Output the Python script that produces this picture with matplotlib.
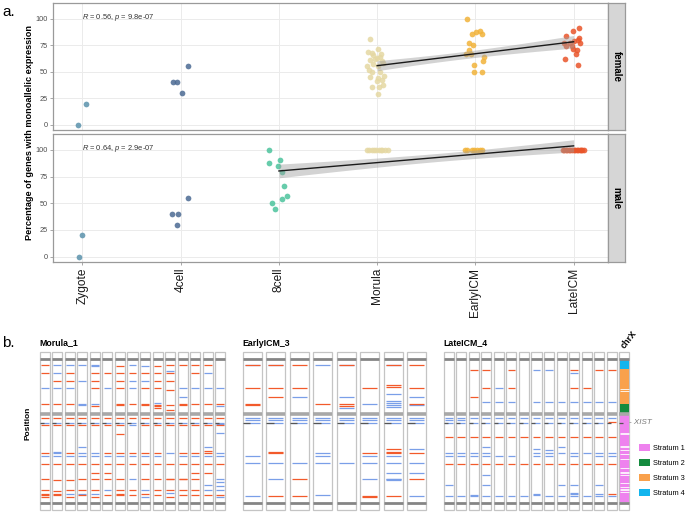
import numpy as np
import matplotlib
matplotlib.use("Agg")
import matplotlib.pyplot as plt
from matplotlib.patches import Rectangle, Patch

plt.rcParams['font.family'] = ['Liberation Sans', 'DejaVu Sans']
plt.rcParams['mathtext.fontset'] = 'custom'
plt.rcParams['mathtext.rm'] = 'Liberation Sans'
plt.rcParams['mathtext.it'] = 'Liberation Sans:italic'

# ======================= panel a data =======================
stages = ['Zygote', '4cell', '8cell', 'Morula', 'EarlyICM', 'LateICM']
stage_colors = ['#5A92AC', '#4B6A93', '#4CC39D', '#E5D8A3', '#F1B33A', '#E9552A']

# female (values, horizontal jitter offsets)
f_zygote_y = [0, 20]
f_zygote_dx = [-0.05, 0.04]
f_4cell_y = [40, 40, 30, 55.6]
f_4cell_dx = [-0.08, -0.04, 0.01, 0.07]
f_8cell_y = []
f_8cell_dx = []
f_morula_y = [81, 72, 69, 67.5, 66, 64, 63, 61, 60, 57, 55, 55, 50, 50, 45.5, 44, 42.5, 41,
              37.5, 35.5, 35.5, 29, 67, 62, 46, 52, 58]
f_morula_dx = [-0.07, 0.01, -0.09, -0.05, -0.04, 0.03, 0.0, -0.07, 0.05, -0.04, -0.1, 0.01, -0.05,
               0.03, -0.07, 0.01, 0.05, 0.0, 0.06, -0.05, 0.02, 0.01, 0.04, -0.02, 0.07, -0.08, 0.06]
f_early_y = [100, 86, 87.5, 89, 86, 77.5, 75, 71, 67, 67, 64, 60, 56, 50, 50]
f_early_dx = [-0.09, -0.03, 0.01, 0.05, 0.07, -0.06, -0.02, -0.07, -0.1, -0.04, 0.09, 0.08, -0.01, -0.01, 0.07]
f_late_y = [91, 89, 83.5, 82, 77.5, 77.5, 77.5, 74.5, 74.5, 72, 71, 67, 62, 56, 79, 80]
f_late_dx = [0.05, -0.01, -0.08, 0.05, -0.1, -0.04, 0.07, -0.08, -0.02, -0.01, 0.03, 0.02, -0.09, 0.04, 0.0, 0.04]

# male
m_zygote_y = [0, 20]
m_zygote_dx = [-0.04, 0.0]
m_4cell_y = [40, 40, 30, 55]
m_4cell_dx = [-0.09, -0.03, -0.04, 0.07]
m_8cell_y = [100, 87.5, 84.6, 91, 79, 66.7, 57, 54.5, 50.3, 44.7]
m_8cell_dx = [-0.1, -0.1, -0.01, 0.01, 0.03, 0.05, 0.08, 0.03, -0.07, -0.04]
m_morula_y = [100, 100, 100, 100, 100, 100, 100, 100, 100, 100]
m_morula_dx = [-0.1, -0.08, -0.05, -0.03, -0.01, 0.02, 0.04, 0.05, 0.08, 0.11]
m_early_y = [100, 100, 100, 100, 100, 100, 100]
m_early_dx = [-0.11, -0.09, -0.03, -0.01, 0.02, 0.05, 0.07]
m_late_y = [100, 100, 100, 100, 100, 100, 100, 100, 100, 100, 100, 100, 100, 100, 100]
m_late_dx = [-0.11, -0.1, -0.08, -0.07, -0.05, -0.04, -0.02, 0.0, 0.01, 0.03, 0.04, 0.06, 0.08, 0.09, 0.11]

female_y = [f_zygote_y, f_4cell_y, f_8cell_y, f_morula_y, f_early_y, f_late_y]
female_dx = [f_zygote_dx, f_4cell_dx, f_8cell_dx, f_morula_dx, f_early_dx, f_late_dx]
male_y = [m_zygote_y, m_4cell_y, m_8cell_y, m_morula_y, m_early_y, m_late_y]
male_dx = [m_zygote_dx, m_4cell_dx, m_8cell_dx, m_morula_dx, m_early_dx, m_late_dx]

facet_labels = ['female', 'male']
stat_labels = [r'$\it{R}$ = 0.56, $\it{p}$ = 9.8e-07', r'$\it{R}$ = 0.64, $\it{p}$ = 2.9e-07']
fit_from_stage = 2  # regression over 8cell .. LateICM

# ======================= panel b data (chrX positions, Mb) =======================
morula1_red = [
    [6.5, 15.5, 49, 64, 72, 101.5, 114, 130, 142, 146.5, 147.5, 149],
    [24, 49, 64, 72, 114, 131, 142.5, 146.5, 147.5],
    [15.5, 24, 49, 64, 72, 101.5, 114, 131, 142, 149],
    [64, 72, 114, 130, 142, 147.5],
    [15.5, 24, 31, 51, 64, 72, 114, 124, 130, 142, 149],
    [15.5, 64, 72, 101.5, 114, 124, 130, 147.5],
    [8, 15.5, 24, 31, 48.5, 49.5, 64, 72, 81.5, 101.5, 114, 130, 142, 146.5, 147.5],
    [15.5, 49, 64, 101.5, 114, 142, 147.5],
    [15.5, 31, 48.5, 49.5, 64, 72, 101.5, 114, 130, 146.5],
    [8, 15.5, 24, 31, 49.5, 50.5, 53.5, 64, 72, 101.5, 114, 130, 142, 147.5],
    [7, 15.5, 24, 34, 50, 55, 64, 72, 114, 129.5, 130.5, 142, 149],
    [7, 48.5, 49.5, 64, 72, 101.5, 114, 129.5, 130.5, 142, 147.5],
    [7, 15.5, 49, 64, 72, 101.5, 114, 124, 130, 142, 147.5],
    [6, 49, 64, 72, 99.5, 101.5, 114, 124, 147.5],
    [49, 64, 72, 114, 147.5],
]
morula1_blue = [
    [31, 69, 105],
    [6, 15.5, 31, 69, 101, 102, 105],
    [6, 31, 69, 105, 146.5],
    [7, 24, 49, 50, 69, 95, 101.5, 105, 146.5],
    [7, 8, 49, 69, 101.5, 105, 146.5],
    [31, 69, 105, 142],
    [69, 105],
    [7, 24, 31, 69, 72, 105, 130],
    [8, 24, 69, 105, 142, 149],
    [48, 69, 105],
    [12.6, 69, 101.5, 145.5],
    [31, 41, 69, 105],
    [31, 69, 105],
    [15.5, 31, 69, 95, 105, 136, 142],
    [31, 50.5, 69, 70, 80.5, 101.5, 105, 130, 133, 137, 142, 149],
]
early3_red = [
    [6.5, 31, 48.5, 49.5],
    [6.5, 31, 41, 101, 102, 148.5],
    [6.5, 31, 130.5, 148.5],
    [49],
    [6.5, 49, 51],
    [31, 101.5, 148, 149],
    [6.5, 28, 30, 97, 101, 102, 148.5],
    [6.5, 31, 49, 101.5, 130.5],
]
early3_blue = [
    [6, 64, 66, 69, 105, 113, 148.5],
    [6, 64, 66, 69, 113, 130.5],
    [41, 64, 66, 69, 113],
    [6, 64, 66, 69, 101.5, 105, 113, 147.5],
    [6, 41, 53.5, 64, 66, 69, 113],
    [49, 64, 66, 69, 105, 113, 129.5],
    [6, 38, 46, 48, 50, 52.5, 64, 66, 69, 105, 113, 124, 129.5, 130.5, 131],
    [41, 50, 64, 66, 69, 97, 113, 124, 148.5],
]
late4_red = [
    [85, 114], [85, 114], [12, 41, 85, 114], [12, 31, 85, 114], [85, 114],
    [12, 31, 85, 114], [85, 114], [85, 114], [85, 114], [85, 114],
    [12, 31, 85, 114], [31, 85, 114], [12, 85, 114], [12, 68, 85, 114, 146.5],
]
late4_blue = [
    [64, 66, 69, 102, 105, 136.5, 148.5],
    [64, 66, 69, 102, 105, 148.5],
    [64, 69, 102, 105, 147, 148.5],
    [47, 64, 69, 95, 102, 105, 126, 136.5, 148.5],
    [31, 47, 64, 69, 105, 148.5],
    [47, 64, 69, 105, 148.5],
    [64, 69, 148.5],
    [12, 47, 64, 69, 98, 102, 105, 146.5, 147.5],
    [12, 47, 64, 69, 98.5, 102, 105, 148.5],
    [47, 64, 69, 95, 102, 136.5, 148.5],
    [15, 47, 64, 69, 102, 105, 136.5, 145, 146, 148.5],
    [47, 64, 69, 102, 148.5],
    [47, 64, 69, 102, 105, 136.5, 146.5, 148.5],
    [47, 64, 102, 105, 148.5],
]
sample_titles = ['Morula_1', 'EarlyICM_3', 'LateICM_4']

chrom_end = 156
centromere = 60
xist_pos = 69
strata_names = ['Stratum 1', 'Stratum 2', 'Stratum 3', 'Stratum 4']
strata_colors = ['#EE82EE', '#148B3E', '#F9A14C', '#12B5EE']
strata_start = [61, 49, 10.8, 0.5]
strata_end = [154.5, 59, 49, 10.8]
chrx_gaps = [33, 34.5, 80, 81, 94, 95, 99, 103, 108, 118, 122, 124, 126, 134, 139, 140.5, 142, 143.5]

RED = '#F25A2B'
BLUE = '#7A9FE8'

# ======================= figure =======================
W, H = 685, 512
fig = plt.figure(figsize=(W / 100, H / 100), dpi=100)


def ax_px(l, t, r, b):
    return fig.add_axes([l / W, 1 - b / H, (r - l) / W, (b - t) / H])


def fit_band(xs, ys):
    xs = np.asarray(xs, float)
    ys = np.asarray(ys, float)
    n = len(xs)
    b, a = np.polyfit(xs, ys, 1)
    xg = np.linspace(xs.min(), xs.max(), 80)
    yhat = a + b * xg
    resid = ys - (a + b * xs)
    s = np.sqrt(np.sum(resid ** 2) / (n - 2))
    sxx = np.sum((xs - xs.mean()) ** 2)
    se = s * np.sqrt(1 / n + (xg - xs.mean()) ** 2 / sxx)
    return xg, yhat, 2.02 * se


panel_rows = [(3, 130), (134, 262)]
for row, ((top, bot), ys_list, dx_list, lab, stat) in enumerate(
        zip(panel_rows, [female_y, male_y], [female_dx, male_dx], facet_labels, stat_labels)):
    ax = ax_px(53, top, 608, bot)
    ax.set_xlim(-0.3, 5.35)
    ax.set_ylim(-5, 115)
    ax.grid(True, color='#EBEBEB', lw=0.7)
    ax.set_axisbelow(True)
    for sp in ax.spines.values():
        sp.set_color('#9A9A9A')
        sp.set_linewidth(0.9)
    ax.set_yticks([0, 25, 50, 75, 100])
    ax.set_xticks(range(len(stages)))
    ax.tick_params(axis='both', length=2.2, width=0.6, color='#9A9A9A', labelsize=5.3,
                   labelcolor='#4D4D4D', pad=1.5)
    if row == 1:
        ax.set_xticklabels(stages, rotation=90, fontsize=8.6, color='#1A1A1A')
        ax.tick_params(axis='x', pad=2)
    else:
        ax.set_xticklabels([])
        ax.tick_params(axis='x', length=0)
    fx, fy = [], []
    for k in range(len(stages)):
        ys = ys_list[k]
        if len(ys) == 0:
            continue
        xs = k + np.asarray(dx_list[k], float)
        ax.scatter(xs, ys, s=17, color=stage_colors[k], alpha=0.85, lw=0, zorder=3)
        if k >= fit_from_stage:
            fx += [k] * len(ys)
            fy += list(ys)
    xg, yhat, ci = fit_band(fx, fy)
    ax.fill_between(xg, yhat - ci, yhat + ci, color='#9E9E9E', alpha=0.45, lw=0, zorder=4)
    ax.plot(xg, yhat, color='#1A1A1A', lw=1.0, zorder=5)
    ax.text(0, 101, stat, fontsize=5.4, color='#333333', ha='left', va='center')

    sa = ax_px(608, top, 625, bot)
    sa.set_facecolor('#D6D6D6')
    sa.set_xticks([])
    sa.set_yticks([])
    for sp in sa.spines.values():
        sp.set_color('#9A9A9A')
        sp.set_linewidth(0.9)
    sa.text(0.5, 0.5, lab, rotation=-90, ha='center', va='center', fontsize=7,
            weight='bold', transform=sa.transAxes)

fig.text(30 / W, 1 - 132 / H, 'Percentage of genes with monoallelic expression', rotation=90,
         ha='center', va='center', fontsize=6.6, weight='bold')
fig.text(2 / W, 1 - 12 / H, 'a.', fontsize=11, ha='left', va='center')

# ======================= panel b =======================
frame_top, frame_bot = -7.6, 163.6
bw = 0.8
inset = 0.09


def draw_bar(ax, i, reds, blues):
    ax.add_patch(Rectangle((i - bw / 2, frame_top), bw, frame_bot - frame_top, fc='white',
                           ec='#C4C4C4', lw=0.9, zorder=1))
    ax.hlines([0, chrom_end], i - bw / 2, i + bw / 2, color='#858585', lw=2.0, zorder=3)
    ax.hlines([centromere], i - bw / 2, i + bw / 2, color='#A8A8A8', lw=2.6, zorder=3)
    ax.hlines(blues, i - bw / 2 + inset, i + bw / 2 - inset, color=BLUE, lw=0.9, zorder=4)
    ax.hlines(reds, i - bw / 2 + inset, i + bw / 2 - inset, color=RED, lw=0.9, zorder=5)
    ax.hlines([xist_pos], i - bw / 2, i - 0.08, color='#555555', lw=0.9, zorder=6)


groups = [(morula1_red, morula1_blue), (early3_red, early3_blue), (late4_red, late4_blue)]
group_left = [38.5, 240.5, 442.5]
for gi, ((reds, blues), title, gl) in enumerate(zip(groups, sample_titles, group_left)):
    ax = ax_px(gl, 350, gl + 188, 512)
    ncol = len(reds) + (1 if gi == 2 else 0)
    ax.set_xlim(-0.5, ncol - 0.5)
    ax.set_ylim(165.7, -9.75)
    ax.axis('off')
    for i in range(len(reds)):
        draw_bar(ax, i, reds[i], blues[i])
    ax.text(-0.4, -17.3, title, fontsize=6.3, weight='bold', ha='left', va='center', clip_on=False)
    if gi == 2:
        i = len(reds)
        ax.add_patch(Rectangle((i - bw / 2, frame_top), bw, frame_bot - frame_top, fc='white',
                               ec='#C4C4C4', lw=0.9, zorder=1))
        for s0, s1, c in zip(strata_start, strata_end, strata_colors):
            ax.add_patch(Rectangle((i - bw / 2 + 0.05, s0), bw - 0.1, s1 - s0, fc=c, lw=0, zorder=2))
        ax.hlines(chrx_gaps, i - bw / 2 + 0.05, i + bw / 2 - 0.05, color='white', lw=0.6, zorder=3)
        ax.hlines([0, chrom_end], i - bw / 2, i + bw / 2, color='#858585', lw=2.0, zorder=3)
        ax.hlines([centromere], i - bw / 2, i + bw / 2, color='#A8A8A8', lw=2.6, zorder=3)
        ax.hlines([xist_pos], i - bw / 2, i - 0.08, color='#555555', lw=0.9, zorder=6)
        ax.text(i - 0.1, -12, 'chrX', rotation=52, rotation_mode='anchor', fontsize=6.5,
                weight='bold', ha='left', va='center', clip_on=False)
        ax.text(i + 0.38, xist_pos, '- XIST', fontsize=5.8, style='italic', color='#7A7A7A',
                ha='left', va='center', clip_on=False)

handles = [Patch(facecolor=c, edgecolor='none') for c in strata_colors]
fig.legend(handles, strata_names, loc='upper left', bbox_to_anchor=(636.4 / W, 1 - 441 / H),
           frameon=False, fontsize=5.3, handlelength=1.5, handleheight=1.0, labelspacing=1.0,
           handletextpad=0.3, borderaxespad=0, borderpad=0.4)

fig.text(28 / W, 1 - 423 / H, 'Position', rotation=90, ha='center', va='center', fontsize=6,
         weight='bold')
fig.text(2 / W, 1 - 343 / H, 'b.', fontsize=11, ha='left', va='center')

fig.savefig('out.png', dpi=100)
